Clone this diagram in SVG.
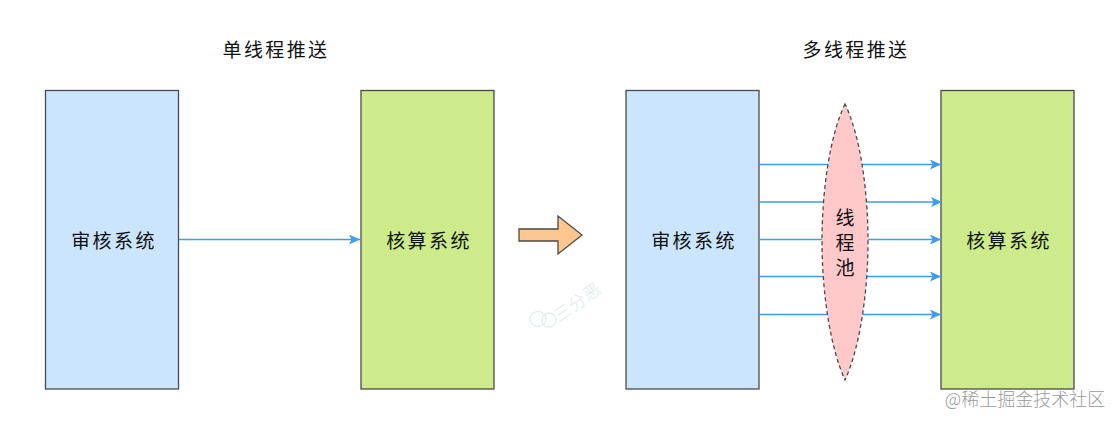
<svg xmlns="http://www.w3.org/2000/svg" width="1120" height="425" viewBox="0 0 1120 425">
<style>
text{font-family:"Noto Sans CJK SC","Noto Sans",sans-serif;font-weight:400;fill:#111;text-anchor:middle}
.lbl{font-size:19px;letter-spacing:2.4px}
.pool{font-size:19px}
.box{stroke:#4a4a4a;stroke-width:1.3}
.blue{fill:#cce5ff}
.green{fill:#cdeb8b}
.c{fill:none;stroke:#3d9cf5;stroke-width:1.3}
.ah{fill:#3d9cf5;stroke:none}
</style>
<defs>
<marker id="ar" markerUnits="userSpaceOnUse" markerWidth="12" markerHeight="10" refX="11" refY="5" orient="auto">
<path class="ah" d="M0,0 L11,5 L0,10 L2.5,5 Z"/>
</marker>
</defs>
<rect width="1120" height="425" fill="#fff"/>
<g id="title-left"><text class="lbl" x="276" y="57">单线程推送</text></g>
<g id="title-right"><text class="lbl" x="856" y="57">多线程推送</text></g>
<g id="audit-left"><rect class="box blue" x="45.500" y="90.500" width="133" height="298.500"/><text class="lbl" x="114" y="248">审核系统</text></g>
<g id="account-left"><rect class="box green" x="361" y="90.500" width="133" height="298.500"/><text class="lbl" x="429" y="248">核算系统</text></g>
<g id="audit-right"><rect class="box blue" x="626" y="90.500" width="133" height="298.500"/><text class="lbl" x="694" y="248">审核系统</text></g>
<g id="account-right"><rect class="box green" x="941" y="90.500" width="133" height="298.500"/><text class="lbl" x="1009" y="248">核算系统</text></g>
<g id="connectors">
<path class="c" marker-end="url(#ar)" d="M179,239.500H360"/>
<path class="c" marker-end="url(#ar)" d="M759,164.500H941"/>
<path class="c" marker-end="url(#ar)" d="M759,202H942"/>
<path class="c" marker-end="url(#ar)" d="M759,239.500H941"/>
<path class="c" marker-end="url(#ar)" d="M759,276.500H941"/>
<path class="c" marker-end="url(#ar)" d="M759,314.500H941"/>
</g>
<g id="thread-pool">
<path d="M845,104 C830,135 822,190 822,241 C822,292 830,347 845,380 C860,347 868,292 868,241 C868,190 860,135 845,104 Z" fill="#ffc9c9" stroke="#4a4a4a" stroke-width="1.300" stroke-dasharray="4 3"/>
<text class="pool" x="845" y="225">线</text>
<text class="pool" x="845" y="250">程</text>
<text class="pool" x="845" y="275">池</text>
</g>
<g id="big-arrow">
<path d="M519,229 H558 V216 L582,235 L558,254 V241 H519 Z" fill="#ffc78e" stroke="#4a4a4a" stroke-width="1.300"/>
</g>
<g id="watermark-wechat" opacity="0.8">
<ellipse cx="538" cy="319" rx="8" ry="7.500" fill="none" stroke="#cfe6ee" stroke-width="1"/>
<ellipse cx="549" cy="320" rx="7" ry="7" fill="none" stroke="#bfe6ee" stroke-width="1"/>
<text x="0" y="0" transform="translate(581,307) rotate(-35)" style="font-size:17px;letter-spacing:1px;fill:#d3e2f2;font-weight:300">三分恶</text>
</g>
<g id="watermark-site">
<text x="1025" y="406" style="font-size:18px;fill:#9a9a9a;font-weight:300">@稀土掘金技术社区</text>
</g>
</svg>
